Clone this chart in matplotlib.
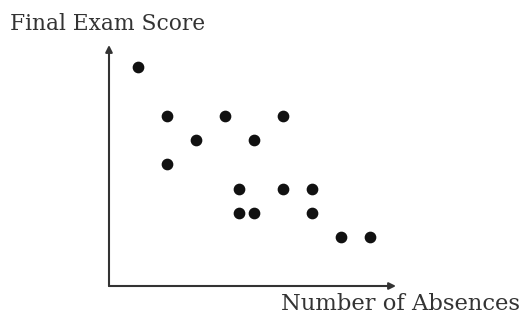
import matplotlib
matplotlib.use('Agg')
import matplotlib.pyplot as plt

# absences vs final exam score (no tick values shown)
absences = [1, 2, 4, 6, 3, 5, 2, 4.5, 6, 7, 4.5, 5, 7, 8, 9]
scores = [9, 7, 7, 7, 6, 6, 5, 4, 4, 4, 3, 3, 3, 2, 2]
x_label = 'Number of Absences'
y_label = 'Final Exam Score'

W, H = 522, 315
fig = plt.figure(figsize=(W / 100, H / 100), dpi=100)
ax = fig.add_axes([109 / W, (H - 286) / H, 287 / W, 241 / H])
ax.scatter(absences, scores, s=55, color='#111111', zorder=3, clip_on=False)
ax.set_xlim(0, 9.9)
ax.set_ylim(0, 9.9)
ax.axis('off')

# axes drawn as arrows
arrow = dict(arrowstyle='-|>', color='#333333', lw=1.5, mutation_scale=10,
             shrinkA=0, shrinkB=0)
ax.annotate('', xy=(1, 0), xytext=(0, 0), xycoords='axes fraction', arrowprops=arrow)
ax.annotate('', xy=(0, 1), xytext=(0, 0), xycoords='axes fraction', arrowprops=arrow)

font = dict(family='DejaVu Serif', color='#333333')
fig.text(10 / W, 1 - 30 / H, y_label, ha='left', va='baseline', fontsize=15.7, **font)
fig.text(520 / W, 1 - 310 / H, x_label, ha='right', va='baseline', fontsize=16.3, **font)

fig.savefig('out.png', dpi=100)
